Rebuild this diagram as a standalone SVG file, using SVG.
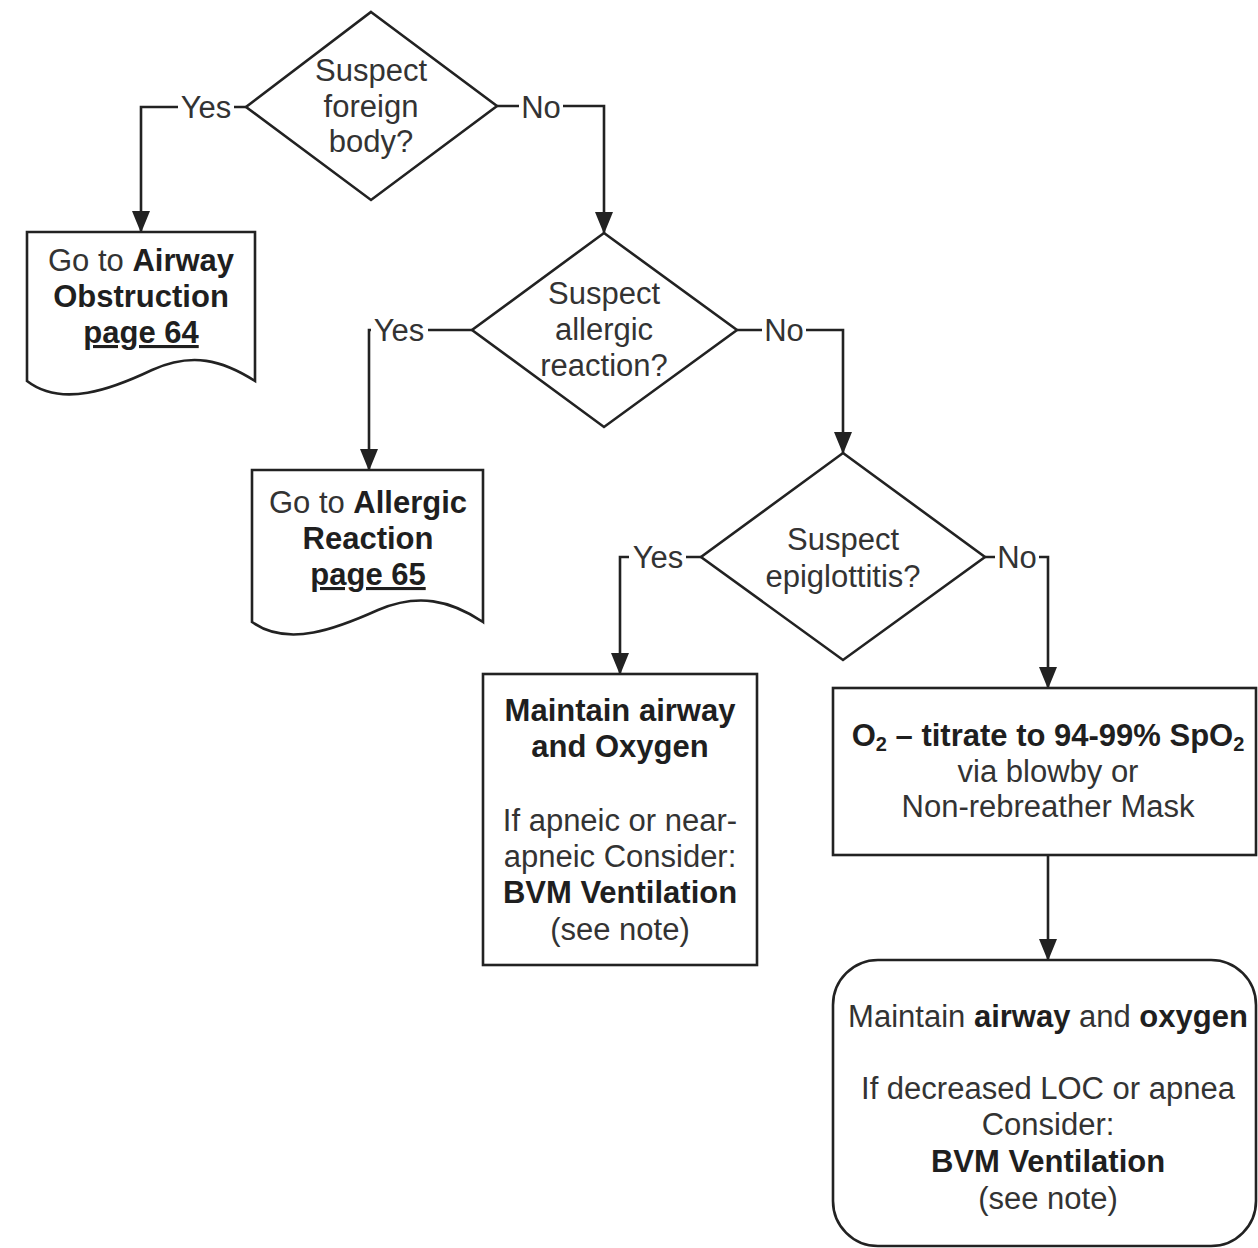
<svg xmlns="http://www.w3.org/2000/svg" width="1258" height="1248" viewBox="0 0 1258 1248">
<defs>
<style>
.shape{fill:#fff;stroke:#222;stroke-width:2.6}
.conn{fill:none;stroke:#222;stroke-width:2.6}
text{font-family:"Liberation Sans",Arial,sans-serif;font-size:31px;fill:#333;text-anchor:middle}
.b{font-weight:bold;fill:#1f1f1f}
.u{text-decoration:underline}
.lblbg{fill:#fff}
</style>
<marker id="arr" markerUnits="userSpaceOnUse" markerWidth="18" markerHeight="22" refX="9" refY="21" orient="auto-start-reverse" viewBox="0 0 18 22">
<path d="M0,0 L18,0 L9,22 Z" fill="#222" transform="rotate(0)"/>
</marker>
<marker id="arrd" markerUnits="userSpaceOnUse" markerWidth="22" markerHeight="18" refX="21" refY="9" orient="auto" viewBox="0 0 22 18">
<path d="M0,0 L22,9 L0,18 Z" fill="#222"/>
</marker>
</defs>
<rect width="1258" height="1248" fill="#fff"/>

<g id="connectors">
<path class="conn" d="M246,107 H141 V232" marker-end="url(#arrd)"/>
<path class="conn" d="M497,106 H604 V233" marker-end="url(#arrd)"/>
<path class="conn" d="M472,330 H369 V470" marker-end="url(#arrd)"/>
<path class="conn" d="M737,330 H843 V453" marker-end="url(#arrd)"/>
<path class="conn" d="M701,557 H620 V674" marker-end="url(#arrd)"/>
<path class="conn" d="M985,557 H1048 V688" marker-end="url(#arrd)"/>
<path class="conn" d="M1048,855 V960" marker-end="url(#arrd)"/>
<rect class="lblbg" x="178" y="92" width="56" height="30"/>
<text x="206" y="118">Yes</text>
<rect class="lblbg" x="519" y="92" width="44" height="30"/>
<text x="541" y="118">No</text>
<rect class="lblbg" x="371" y="316" width="57" height="30"/>
<text x="399" y="341">Yes</text>
<rect class="lblbg" x="762" y="316" width="44" height="30"/>
<text x="784" y="341">No</text>
<rect class="lblbg" x="629" y="543" width="57" height="30"/>
<text x="658" y="568">Yes</text>
<rect class="lblbg" x="995" y="543" width="44" height="30"/>
<text x="1017" y="568">No</text>
</g>

<g id="d1">
<polygon class="shape" points="371,12 497,106 371,200 246,107"/>
<text x="371" y="81">Suspect</text>
<text x="371" y="117">foreign</text>
<text x="371" y="152">body?</text>
</g>

<g id="doc1">
<path class="shape" d="M27,232 H255 V381 C222,360 192,352 152,370 C112,389 62,408 27,381 Z"/>
<text x="141" y="271">Go to <tspan class="b">Airway</tspan></text>
<text x="141" y="307" class="b">Obstruction</text>
<text x="141" y="343" class="b u">page 64</text>
</g>

<g id="d2">
<polygon class="shape" points="604,233 737,330 604,427 472,330"/>
<text x="604" y="304">Suspect</text>
<text x="604" y="340">allergic</text>
<text x="604" y="376">reaction?</text>
</g>

<g id="doc2">
<path class="shape" d="M252,470 H483 V622 C450,600 418,593 378,610 C338,628 288,648 252,622 Z"/>
<text x="368" y="513">Go to <tspan class="b">Allergic</tspan></text>
<text x="368" y="549" class="b">Reaction</text>
<text x="368" y="585" class="b u">page 65</text>
</g>

<g id="d3">
<polygon class="shape" points="843,453 985,557 843,660 701,557"/>
<text x="843" y="550">Suspect</text>
<text x="843" y="587">epiglottitis?</text>
</g>

<g id="boxA">
<rect class="shape" x="483" y="674" width="274" height="291"/>
<text x="620" y="721" class="b">Maintain airway</text>
<text x="620" y="757" class="b">and Oxygen</text>
<text x="620" y="831">If apneic or near-</text>
<text x="620" y="867">apneic Consider:</text>
<text x="620" y="903" class="b">BVM Ventilation</text>
<text x="620" y="940">(see note)</text>
</g>

<g id="boxB">
<rect class="shape" x="833" y="688" width="423" height="167"/>
<text x="1048" y="746" class="b">O<tspan font-size="20" dy="5">2</tspan><tspan dy="-5"> – titrate to 94-99% SpO</tspan><tspan font-size="20" dy="5">2</tspan></text>
<text x="1048" y="782">via blowby or</text>
<text x="1048" y="817">Non-rebreather Mask</text>
</g>

<g id="final">
<rect class="shape" x="833" y="960" width="423" height="286" rx="45" ry="45"/>
<text x="1048" y="1027">Maintain <tspan class="b">airway</tspan> and <tspan class="b">oxygen</tspan></text>
<text x="1048" y="1099">If decreased LOC or apnea</text>
<text x="1048" y="1135">Consider:</text>
<text x="1048" y="1172" class="b">BVM Ventilation</text>
<text x="1048" y="1209">(see note)</text>
</g>
</svg>
